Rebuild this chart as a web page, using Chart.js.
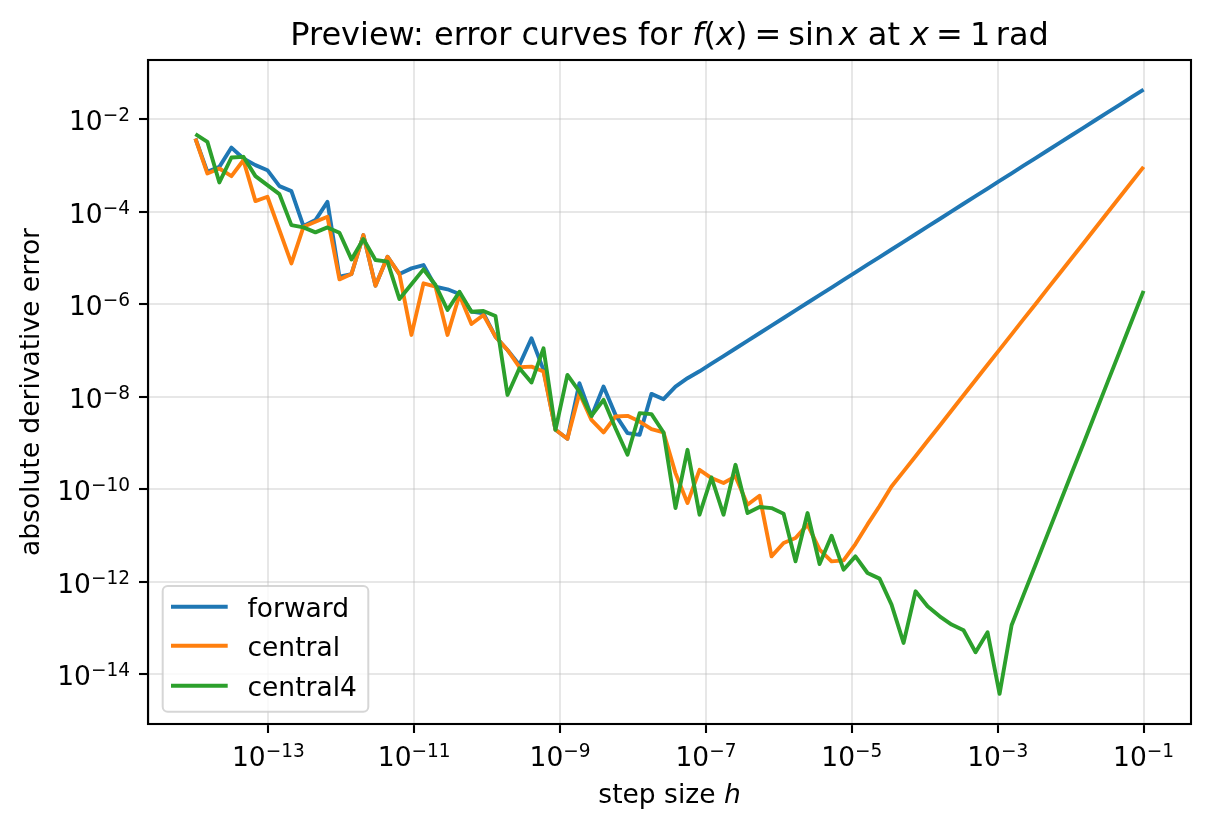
<!DOCTYPE html>
<html>
<head>
<meta charset="utf-8">
<script src="https://cdn.jsdelivr.net/npm/chart.js@4/dist/chart.umd.min.js"></script>
<style>
  html, body { margin: 0; padding: 0; background: #fff; }
  canvas { display: block; }
</style>
</head>
<body>
<canvas id="chart" width="1209" height="832"></canvas>
<script>
// Data (log-spaced step sizes, 80 points)
const stepSizes = [
  1.00e-14, 1.46e-14, 2.13e-14, 3.12e-14, 4.55e-14, 6.65e-14, 9.71e-14, 1.42e-13, 2.07e-13, 3.03e-13,
  4.42e-13, 6.46e-13, 9.44e-13, 1.38e-12, 2.01e-12, 2.94e-12, 4.30e-12, 6.27e-12, 9.16e-12, 1.34e-11,
  1.96e-11, 2.86e-11, 4.17e-11, 6.09e-11, 8.90e-11, 1.30e-10, 1.90e-10, 2.77e-10, 4.05e-10, 5.92e-10,
  8.65e-10, 1.26e-9, 1.84e-9, 2.69e-9, 3.94e-9, 5.75e-9, 8.40e-9, 1.23e-8, 1.79e-8, 2.62e-8,
  3.82e-8, 5.58e-8, 8.16e-8, 1.19e-7, 1.74e-7, 2.54e-7, 3.71e-7, 5.42e-7, 7.92e-7, 1.16e-6,
  1.69e-6, 2.47e-6, 3.61e-6, 5.27e-6, 7.70e-6, 1.12e-5, 1.64e-5, 2.40e-5, 3.50e-5, 5.12e-5,
  7.48e-5, 1.09e-4, 1.60e-4, 2.33e-4, 3.40e-4, 4.97e-4, 7.26e-4, 1.06e-3, 1.55e-3, 2.26e-3,
  3.31e-3, 4.83e-3, 7.05e-3, 1.03e-2, 1.51e-2, 2.20e-2, 3.21e-2, 4.69e-2, 6.85e-2, 1.00e-1
];

const forwardErr = [
  3.83e-3, 7.29e-4, 9.35e-4, 2.44e-3, 1.42e-3, 1.02e-3, 7.92e-4, 3.58e-4, 2.79e-4, 4.91e-5,
  6.61e-5, 1.64e-4, 3.95e-6, 4.51e-6, 3.13e-5, 2.53e-6, 1.07e-5, 4.51e-6, 5.98e-6, 7.06e-6,
  2.40e-6, 2.11e-6, 1.67e-6, 6.93e-7, 6.40e-7, 2.00e-7, 1.03e-7, 4.90e-8, 1.85e-7, 3.82e-8,
  1.94e-9, 1.24e-9, 1.97e-8, 3.76e-9, 1.67e-8, 4.08e-9, 1.64e-9, 1.51e-9, 1.16e-8, 8.91e-9,
  1.67e-8, 2.53e-8, 3.57e-8, 5.21e-8, 7.61e-8, 1.11e-7, 1.62e-7, 2.37e-7, 3.47e-7, 5.06e-7,
  7.39e-7, 1.08e-6, 1.58e-6, 2.30e-6, 3.37e-6, 4.92e-6, 7.18e-6, 1.05e-5, 1.53e-5, 2.24e-5,
  3.27e-5, 4.78e-5, 6.98e-5, 1.02e-4, 1.49e-4, 2.17e-4, 3.18e-4, 4.64e-4, 6.78e-4, 9.90e-4,
  1.45e-3, 2.11e-3, 3.09e-3, 4.51e-3, 6.58e-3, 9.62e-3, 1.40e-2, 2.05e-2, 3.00e-2, 4.38e-2
];

const centralErr = [
  3.83e-3, 6.71e-4, 8.61e-4, 5.89e-4, 1.30e-3, 1.70e-4, 2.11e-4, 4.02e-5, 7.67e-6, 4.74e-5,
  6.08e-5, 7.80e-5, 3.46e-6, 4.51e-6, 3.13e-5, 2.53e-6, 1.07e-5, 4.51e-6, 2.18e-7, 2.84e-6,
  2.40e-6, 2.18e-7, 1.59e-6, 3.76e-7, 5.87e-7, 2.00e-7, 1.03e-7, 4.37e-8, 4.51e-8, 3.52e-8,
  1.94e-9, 1.24e-9, 1.20e-8, 3.18e-9, 1.70e-9, 3.76e-9, 3.89e-9, 2.93e-9, 2.00e-9, 1.70e-9,
  2.25e-10, 5.07e-11, 2.65e-10, 1.76e-10, 1.37e-10, 1.91e-10, 4.67e-11, 7.29e-11, 3.57e-12, 6.95e-12,
  8.91e-12, 1.73e-11, 4.98e-12, 2.79e-12, 2.93e-12, 6.60e-12, 1.75e-11, 4.37e-11, 1.16e-10, 2.45e-10,
  5.22e-10, 1.11e-9, 2.38e-9, 5.08e-9, 1.08e-8, 2.31e-8, 4.93e-8, 1.05e-7, 2.24e-7, 4.79e-7,
  1.02e-6, 2.18e-6, 4.65e-6, 9.92e-6, 2.12e-5, 4.52e-5, 9.64e-5, 2.06e-4, 4.39e-4, 9.35e-4
];

const central4Err = [
  4.74e-3, 3.24e-3, 4.30e-4, 1.49e-3, 1.54e-3, 5.89e-4, 3.76e-4, 2.40e-4, 5.15e-5, 4.59e-5,
  3.58e-5, 4.59e-5, 3.52e-5, 9.35e-6, 2.57e-5, 9.06e-6, 8.34e-6, 1.30e-6, 2.70e-6, 5.69e-6,
  2.61e-6, 7.53e-7, 1.87e-6, 6.93e-7, 7.18e-7, 5.60e-7, 1.10e-8, 4.16e-8, 2.04e-8, 1.12e-7,
  1.94e-9, 2.98e-8, 1.30e-8, 3.88e-9, 8.61e-9, 2.10e-9, 5.60e-10, 4.44e-9, 4.23e-9, 1.70e-9,
  3.95e-11, 7.18e-10, 2.84e-11, 1.81e-10, 2.84e-11, 3.40e-10, 3.08e-11, 4.16e-11, 3.95e-11, 2.98e-11,
  2.79e-12, 3.08e-11, 2.44e-12, 1.00e-11, 1.84e-12, 3.57e-12, 1.56e-12, 1.18e-12, 3.24e-13, 4.82e-14,
  6.28e-13, 2.98e-13, 1.81e-13, 1.20e-13, 9.03e-14, 3.03e-14, 8.17e-14, 3.82e-15, 1.16e-13, 5.26e-13,
  2.39e-12, 1.08e-11, 4.91e-11, 2.23e-10, 1.01e-9, 4.59e-9, 2.08e-8, 9.46e-8, 4.30e-7, 1.95e-6
];

const seriesNames = ['forward', 'central', 'central4'];
const seriesColors = ['#1f77b4', '#ff7f0e', '#2ca02c'];
const xTickExps = [-13, -11, -9, -7, -5, -3, -1];
const yTickExps = [-14, -12, -10, -8, -6, -4, -2];

const FONT = "'DejaVu Sans'";
const BASE_PX = 26.5;

function toPoints(values) {
  return values.map((v, i) => ({ x: stepSizes[i], y: v }));
}

// draws 10^exp as base + raised exponent
function drawPower(ctx, exp, x, baseY, align) {
  const base = '10';
  const sup = '\u2212' + Math.abs(exp);
  ctx.font = BASE_PX + 'px ' + FONT;
  const wb = ctx.measureText(base).width;
  ctx.font = (BASE_PX * 0.7) + 'px ' + FONT;
  const ws = ctx.measureText(sup).width;
  const total = wb + ws;
  let start = align === 'center' ? x - total / 2 : x - total;
  ctx.textAlign = 'left';
  ctx.textBaseline = 'alphabetic';
  ctx.font = BASE_PX + 'px ' + FONT;
  ctx.fillText(base, start, baseY);
  ctx.font = (BASE_PX * 0.7) + 'px ' + FONT;
  ctx.fillText(sup, start + wb, baseY - 9);
}

const decorations = {
  id: 'decorations',
  afterDatasetsDraw(chart) {
    const ctx = chart.ctx;
    const a = chart.chartArea;
    ctx.save();
    ctx.strokeStyle = '#000';
    ctx.lineWidth = 2.1;
    ctx.strokeRect(a.left, a.top, a.right - a.left, a.bottom - a.top);
    ctx.restore();
  },
  afterDraw(chart) {
    const ctx = chart.ctx;
    const a = chart.chartArea;
    const xs = chart.scales.x;
    const ys = chart.scales.y;
    ctx.save();
    ctx.fillStyle = '#000';

    // tick labels
    xTickExps.forEach(e => {
      drawPower(ctx, e, xs.getPixelForValue(Math.pow(10, e)), a.bottom + 41.5, 'center');
    });
    yTickExps.forEach(e => {
      drawPower(ctx, e, 130, ys.getPixelForValue(Math.pow(10, e)) + 11, 'right');
    });

    // x axis title
    const cx = (a.left + a.right) / 2;
    ctx.textBaseline = 'alphabetic';
    ctx.textAlign = 'left';
    ctx.font = BASE_PX + 'px ' + FONT;
    const xt1 = 'step size ';
    const w1 = ctx.measureText(xt1).width;
    ctx.font = 'italic ' + BASE_PX + 'px ' + FONT;
    const w2 = ctx.measureText('h').width;
    let sx = cx - (w1 + w2) / 2;
    ctx.font = BASE_PX + 'px ' + FONT;
    ctx.fillText(xt1, sx, 803);
    ctx.font = 'italic ' + BASE_PX + 'px ' + FONT;
    ctx.fillText('h', sx + w1, 803);

    // y axis title
    ctx.save();
    ctx.translate(39, (a.top + a.bottom) / 2);
    ctx.rotate(-Math.PI / 2);
    ctx.font = BASE_PX + 'px ' + FONT;
    ctx.textAlign = 'center';
    ctx.fillText('absolute derivative error', 0, 0);
    ctx.restore();

    // title with math parts
    const tpx = 32;
    const parts = [
      { t: 'Preview: error curves for ' }, { t: 'f', i: true }, { t: '(' }, { t: 'x', i: true }, { t: ')' },
      { g: 0.22 }, { t: '=' }, { g: 0.22 }, { t: 'sin' }, { g: 0.14 }, { t: 'x', i: true },
      { t: ' at ' }, { t: 'x', i: true }, { g: 0.22 }, { t: '=' }, { g: 0.22 }, { t: '1' }, { g: 0.17 }, { t: 'rad' }
    ];
    let tw = 0;
    parts.forEach(p => {
      if (p.g) { p.w = p.g * tpx; } else {
        ctx.font = (p.i ? 'italic ' : '') + tpx + 'px ' + FONT;
        p.w = ctx.measureText(p.t).width;
      }
      tw += p.w;
    });
    let tx = cx - tw / 2;
    ctx.textAlign = 'left';
    parts.forEach(p => {
      if (p.t) {
        ctx.font = (p.i ? 'italic ' : '') + tpx + 'px ' + FONT;
        ctx.fillText(p.t, tx, 45);
      }
      tx += p.w;
    });

    // legend
    const lx = 162.7, ly = 586, lw = 205.6, lh = 125.7, r = 5;
    ctx.beginPath();
    ctx.moveTo(lx + r, ly);
    ctx.arcTo(lx + lw, ly, lx + lw, ly + lh, r);
    ctx.arcTo(lx + lw, ly + lh, lx, ly + lh, r);
    ctx.arcTo(lx, ly + lh, lx, ly, r);
    ctx.arcTo(lx, ly, lx + lw, ly, r);
    ctx.closePath();
    ctx.fillStyle = 'rgba(255,255,255,0.8)';
    ctx.fill();
    ctx.strokeStyle = 'rgba(204,204,204,0.8)';
    ctx.lineWidth = 2;
    ctx.stroke();
    const rows = [606.7, 645.7, 685.7];
    seriesNames.forEach((name, i) => {
      ctx.strokeStyle = seriesColors[i];
      ctx.lineWidth = 3.9;
      ctx.beginPath();
      ctx.moveTo(171, rows[i]);
      ctx.lineTo(227.7, rows[i]);
      ctx.stroke();
      ctx.fillStyle = '#000';
      ctx.font = BASE_PX + 'px ' + FONT;
      ctx.textAlign = 'left';
      ctx.fillText(name, 247.5, rows[i] + 10.7);
    });
    ctx.restore();
  }
};

const allSeries = [forwardErr, centralErr, central4Err];

new Chart(document.getElementById('chart'), {
  type: 'line',
  data: {
    datasets: allSeries.map((vals, i) => ({
      label: seriesNames[i],
      data: toPoints(vals),
      borderColor: seriesColors[i],
      backgroundColor: seriesColors[i],
      borderWidth: 3.9,
      pointRadius: 0,
      tension: 0,
      fill: false,
      borderJoinStyle: 'round',
      order: 2 - i
    }))
  },
  options: {
    responsive: false,
    animation: false,
    devicePixelRatio: 1,
    layout: { padding: { left: 0, top: 60, right: 18, bottom: 0 } },
    plugins: {
      legend: { display: false },
      title: { display: false },
      tooltip: { enabled: false }
    },
    scales: {
      x: {
        type: 'logarithmic',
        position: 'bottom',
        min: Math.pow(10, -14.65),
        max: Math.pow(10, -0.35),
        afterFit: s => { s.height = 108; },
        afterBuildTicks: s => { s.ticks = xTickExps.map(e => ({ value: Math.pow(10, e) })); },
        ticks: { display: false },
        grid: {
          color: 'rgba(176,176,176,0.3)',
          lineWidth: 2,
          tickLength: 9,
          tickWidth: 2.1,
          tickColor: '#000'
        },
        border: { color: '#000', width: 2.1 }
      },
      y: {
        type: 'logarithmic',
        position: 'left',
        min: Math.pow(10, -15.07),
        max: Math.pow(10, -0.72),
        afterFit: s => { s.width = 148; },
        afterBuildTicks: s => { s.ticks = yTickExps.map(e => ({ value: Math.pow(10, e) })); },
        ticks: { display: false },
        grid: {
          color: 'rgba(176,176,176,0.3)',
          lineWidth: 2,
          tickLength: 9,
          tickWidth: 2.1,
          tickColor: '#000'
        },
        border: { color: '#000', width: 2.1 }
      }
    }
  },
  plugins: [decorations]
});
</script>
</body>
</html>
